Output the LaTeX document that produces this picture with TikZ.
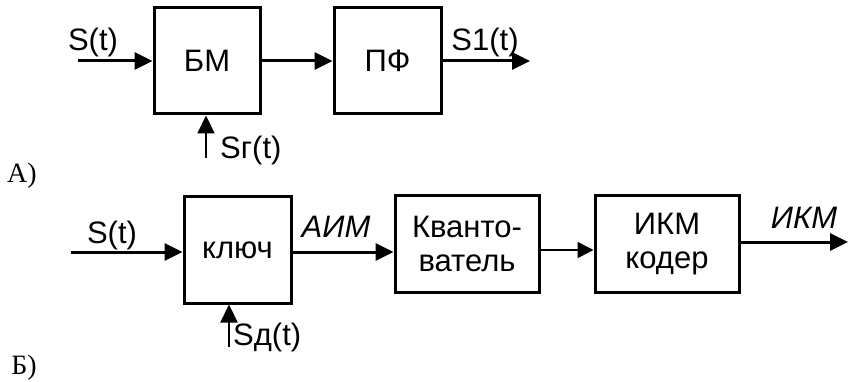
\documentclass[tikz,border=0pt]{standalone}
\usepackage{fontspec}
\setmainfont{Liberation Sans}
\newfontfamily\timesfont{Liberation Serif}
\usepackage{tikz}
\usetikzlibrary{arrows.meta,positioning,calc}

\begin{document}
\begin{tikzpicture}[
  x=1pt,y=-1pt,
  block/.style={rectangle,draw=black,line width=3pt,align=center,inner sep=0pt,
    font=\fontsize{31}{34}\selectfont},
  lbl/.style={font=\fontsize{31}{34}\selectfont,inner sep=0pt},
  ilbl/.style={font=\fontsize{31}{34}\selectfont\itshape,inner sep=0pt},
  tag/.style={font=\fontsize{28}{30}\selectfont\timesfont,inner sep=0pt},
  arr/.style={-{Triangle[length=18pt,width=17pt]},line width=3pt},
  thinarr/.style={-{Triangle[length=16pt,width=16pt]},line width=1.6pt},
  sarr/.style={-{Triangle[length=18pt,width=17pt]},line width=2.2pt}
]
\useasboundingbox (0,0) rectangle (848,382);

% A) balanced modulator and filter
\node[block,minimum width=106pt,minimum height=106pt] (bm) at (207,61) {БМ};
\node[block,minimum width=107pt,minimum height=106pt] (pf) at (387.5,61) {ПФ};
\coordinate (sin) at (78,61);
\coordinate (sout) at (530,61);
\coordinate (sg) at (206,158);
\draw[arr] (sin) -- (sin -| bm.west);
\draw[arr] (bm.east) -- (pf.west);
\draw[arr] (pf.east) -- (sout);
\draw[sarr] (sg) -- (sg |- bm.south);
\node[lbl] (st1) at (93,42) {S(t)};
\node[lbl] (s1t) at (485,42) {S1(t)};
\node[lbl,anchor=west] (sgt) at (220,150) {Sг(t)};
\node[tag] (ta) at (22,176) {А)};

% B) PCM chain
\node[block,minimum width=107pt,minimum height=106pt] (kl) at (237.5,250) {ключ};
\node[block,minimum width=144pt,minimum height=96pt] (kv) at (467,244) {Кванто-\\ватель};
\node[block,minimum width=144pt,minimum height=97pt] (ikm) at (667,244) {ИКМ\\кодер};
\coordinate (kin) at (71,252);
\coordinate (kout) at (848,242);
\coordinate (sd) at (229,347);
\draw[arr] (kin) -- (kin -| kl.west);
\draw[arr] (kl.east |- kin) -- (kin -| kv.west);
\draw[thinarr] ([yshift=-6pt]kv.east) -- ([yshift=-6pt]ikm.west);
\draw[arr] (ikm.east |- kout) -- (kout);
\draw[sarr] (sd) -- (sd |- kl.south);
\node[lbl] (st2) at (112,235) {S(t)};
\node[ilbl] (aim) at (336,227) {АИМ};
\node[ilbl] (ikmout) at (804,218) {ИКМ};
\node[lbl,anchor=west] (sdt) at (233,337) {Sд(t)};
\node[tag] (tb) at (24,368) {Б)};
\end{tikzpicture}
\end{document}
